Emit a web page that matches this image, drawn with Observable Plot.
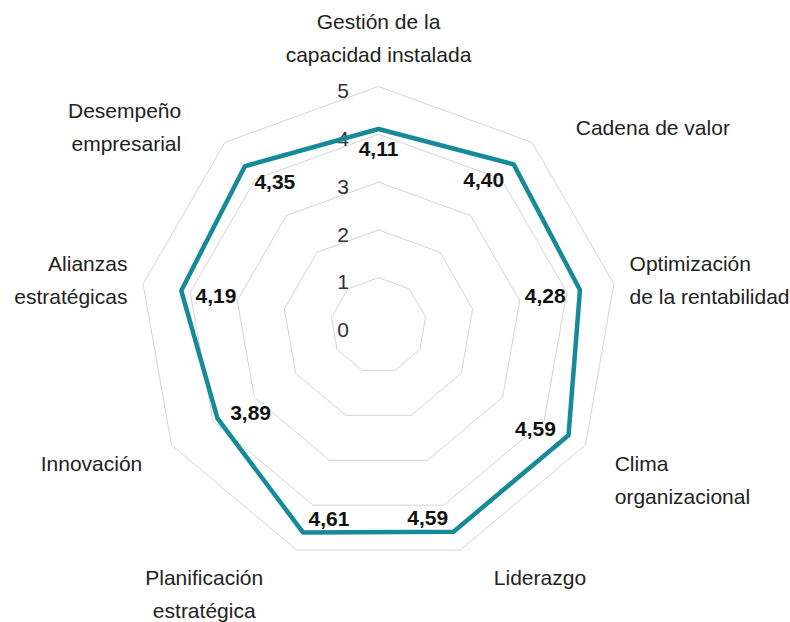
<!DOCTYPE html>
<html>
<head>
<meta charset="utf-8">
<script src="https://cdn.jsdelivr.net/npm/d3@7"></script>
<script src="https://cdn.jsdelivr.net/npm/@observablehq/plot@0.6"></script>
<style>
  html, body { margin: 0; padding: 0; background: #fff; }
  #chart { width: 790px; height: 622px; }
</style>
</head>
<body>
<div id="chart"></div>
<script>
// ---- data ----
const categories = [
  "Gestión de la\ncapacidad instalada",
  "Cadena de valor",
  "Optimización\nde la rentabilidad",
  "Clima\norganizacional",
  "Liderazgo",
  "Planificación\nestratégica",
  "Innovación",
  "Alianzas\nestratégicas",
  "Desempeño\nempresarial"
];
const values = [4.11, 4.40, 4.28, 4.59, 4.59, 4.61, 3.89, 4.19, 4.35];
const valueLabels = ["4,11", "4,40", "4,28", "4,59", "4,59", "4,61", "3,89", "4,19", "4,35"];
const gridLevels = [1, 2, 3, 4, 5];
const tickValues = [0, 1, 2, 3, 4, 5];
const tickLabels = ["0", "1", "2", "3", "4", "5"];

// ---- layout ----
const W = 790, H = 622;
const CX = 378, CY = 325, R = 239, MAXV = 5;
const U = R / MAXV; // pixels per unit
const n = categories.length;
const ang = i => (i * 2 * Math.PI) / n;
const teal = "#168a98";
const font = "'Liberation Sans', Arial, Helvetica, sans-serif";
const catSize = 21;

const ctx = document.createElement("canvas").getContext("2d");
ctx.font = `${catSize}px ${font}`;
const textW = s => ctx.measureText(s).width;

// grid polygons
const gridPts = [];
for (const lv of gridLevels) {
  for (let k = 0; k <= n; k++) {
    const a = ang(k % n);
    gridPts.push({lv, x: lv * Math.sin(a), y: lv * Math.cos(a)});
  }
}
// data polygon
const dataPts = [];
for (let k = 0; k <= n; k++) {
  const a = ang(k % n);
  dataPts.push({x: values[k % n] * Math.sin(a), y: values[k % n] * Math.cos(a)});
}
// value labels (offset inward in pixels, converted to data units)
const valPts = values.map((v, i) => {
  const a = ang(i), s = Math.sin(a), c = Math.cos(a);
  const sg = Math.abs(s) < 0.1 ? 0 : Math.sign(s);
  const offX = -(sg * 21 + 14 * s);
  const offY = 3 + 17 * c; // screen, downward
  return {x: v * s + offX / U, y: v * c - offY / U, t: valueLabels[i]};
});
// category labels
const RL = 258, LH = 33;
const catPts = [];
categories.forEach((lab, i) => {
  const a = ang(i), s = Math.sin(a), c = Math.cos(a), ac = Math.abs(c);
  const lines = lab.split("\n");
  const m = lines.length;
  let anchor = Math.abs(s) < 0.1 ? "middle" : s > 0 ? "start" : "end";
  const push = Math.abs(Math.sin(2 * a)) * (-22.5 + 81 * ac - 13 * ac * ac);
  let px = RL * s + (anchor === "middle" ? 0 : Math.sign(s) * push);
  if (anchor !== "middle" && Math.abs(s) < 0.5) {
    // lower labels: lines centred within the block
    const w = Math.max(...lines.map(textW));
    px += Math.sign(s) * w / 2;
    anchor = "middle";
  }
  const py = -RL * c; // screen, downward
  lines.forEach((ln, k) => {
    let sy;
    if (c > 0.9) sy = py - 12 - (m - 1 - k) * LH;
    else if (c < -0.3) sy = py + 10 + k * LH;
    else sy = py + (k - (m - 1) / 2) * LH;
    catPts.push({x: px / U, y: -sy / U, t: ln, anchor});
  });
});

const chart = Plot.plot({
  width: W,
  height: H,
  margin: 0,
  x: {domain: [-MAXV, MAXV], range: [CX - R, CX + R], axis: null},
  y: {domain: [-MAXV, MAXV], range: [CY + R, CY - R], axis: null},
  style: {fontFamily: font, background: "#fff"},
  marks: [
    Plot.line(gridPts, {x: "x", y: "y", z: "lv", stroke: "#d4d4d4", strokeWidth: 1}),
    Plot.text(tickValues, {x: () => 0, y: d => d, text: (d, i) => tickLabels[i], dx: -35.5, dy: 5,
      fontSize: 21, fill: "#333", textAnchor: "middle", lineAnchor: "middle"}),
    Plot.line(dataPts, {x: "x", y: "y", stroke: teal, strokeWidth: 4.5, strokeLinejoin: "miter", curve: "linear"}),
    Plot.text(valPts, {x: "x", y: "y", text: "t", fontSize: 21, fontWeight: "bold", fill: "#111",
      textAnchor: "middle", lineAnchor: "middle"}),
    ...["start", "middle", "end"].map(an =>
      Plot.text(catPts.filter(d => d.anchor === an), {x: "x", y: "y", text: "t", textAnchor: an,
        lineAnchor: "middle", fontSize: catSize, fill: "#222"}))
  ]
});
document.getElementById("chart").appendChild(chart);
</script>
</body>
</html>
